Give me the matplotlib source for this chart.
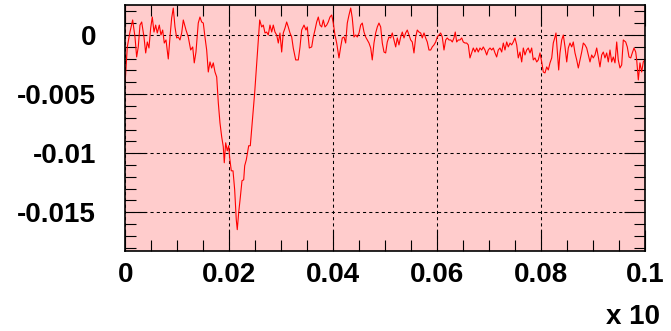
import numpy as np
import matplotlib.pyplot as plt
from matplotlib.ticker import FixedLocator, MultipleLocator, FuncFormatter

# residual trace, both axes in units of 1e-3
x_milli = [
    0.00, 0.39, 0.90, 1.42, 1.87, 2.19, 2.50, 2.83, 3.16, 3.60, 3.93, 4.24, 4.56, 4.89, 5.20,
    5.53, 5.85, 6.16, 6.55, 6.87, 7.20, 7.51, 7.84, 8.28, 8.61, 8.93, 9.24, 9.57, 9.90, 10.20,
    10.53, 10.86, 11.17, 11.69, 12.13, 12.59, 12.98, 13.28, 13.61, 14.05, 14.38, 14.71, 15.02,
    15.34, 15.67, 15.98, 16.31, 16.63, 16.94, 17.27, 17.60, 17.91, 18.23, 18.56, 18.87, 19.06,
    19.33, 19.64, 19.91, 20.10, 20.41, 20.74, 21.06, 21.37, 21.56, 21.83, 22.14, 22.47, 22.80,
    22.99, 23.30, 23.76, 24.07, 24.39, 24.91, 25.36, 25.68, 25.88,
    26.26, 26.57, 26.90, 27.22, 27.53, 27.86, 28.19, 28.49, 28.82, 29.15, 29.46, 29.78, 30.11,
    30.42, 30.75, 31.07, 31.38, 31.71, 32.04, 32.34, 32.81, 33.31, 33.64, 33.96, 34.41, 34.79,
    35.04, 35.43, 35.89, 36.20, 36.52, 36.85, 37.16, 37.49, 37.81, 38.12, 38.45, 38.78, 39.08,
    39.41, 39.74, 40.05, 40.37, 40.70, 41.14, 41.47, 41.78, 42.11, 42.43, 42.74, 43.07, 43.40,
    43.70, 44.03, 44.36, 44.67, 45.00, 45.32, 45.63, 45.96, 46.28, 46.59, 46.92, 47.25, 47.55,
    47.88, 48.21, 48.52, 48.84, 49.17, 49.48, 49.81, 50.13, 50.44, 50.77, 51.10, 51.40, 51.73,
    52.06, 52.37, 52.69, 53.02, 53.33, 53.66, 53.98, 54.29, 54.62, 54.95, 55.25, 55.58, 55.91,
    56.22, 56.54, 56.87, 57.18, 57.51, 57.83, 58.14, 58.47, 58.80, 59.10, 59.43, 59.76, 60.07,
    60.40, 60.72, 61.03, 61.36, 61.69, 61.99, 62.32, 62.65, 62.96, 63.28, 63.53, 63.80, 64.11,
    64.44, 64.77, 65.07, 65.40, 65.73, 66.04, 66.36, 66.69, 67.00, 67.33, 67.65, 67.96, 68.29,
    68.62, 68.92, 69.25, 69.58, 69.89, 70.22, 70.54, 70.85, 71.18, 71.50, 71.81, 72.14, 72.47,
    72.78, 73.10, 73.43, 73.74, 74.07, 74.39, 74.70, 75.03, 75.36, 75.66, 75.99, 76.32, 76.63,
    76.95, 77.28, 77.59, 77.92, 78.24, 78.55, 78.88, 79.21, 79.51, 79.84, 80.17, 80.48, 80.80,
    81.13, 81.44, 81.77, 82.10, 82.40, 82.73, 82.92, 83.25, 83.44, 83.69, 84.02, 84.33, 84.66,
    84.99, 85.29, 85.62, 85.95, 86.25, 86.58, 86.91, 87.22, 87.54, 87.87, 88.18, 88.51, 88.83,
    89.14, 89.47, 89.79, 90.10, 90.43, 90.76, 91.07, 91.39, 91.72, 92.03, 92.35, 92.68, 92.99,
    93.32, 93.64, 93.95, 94.28, 94.61, 94.91, 95.24, 95.57, 95.88, 96.34, 96.65, 96.98, 97.31,
    97.61, 97.94, 98.27, 98.46, 98.77, 99.09, 99.42, 99.73, 100.00,
]
y_milli = [
    -3.80, -1.01, 0.25, 1.27, -0.17, -1.86, -1.01, 0.84, 1.10, -0.17, -1.52, -0.59, -1.10, 0.59, 1.52,
    0.25, 0.84, 0.17, 0.84, 0.00, 0.42, -0.68, -0.42, -2.03, -0.17, 1.44, 2.28, 0.68, -0.25, -0.17,
    -0.42, 0.17, 1.27, 0.42, -0.17, -1.27, -1.01, -2.36, -1.44, 1.01, 1.52, 1.10, 1.01,
    -0.17, -1.27, -3.13, -2.28, -2.79, -2.36, -3.13, -3.55, -5.74, -7.43, -8.61, -9.46, -10.81,
    -9.12, -9.80, -9.37, -10.39, -11.49, -11.49, -13.09, -15.63, -16.47, -15.03, -13.77, -12.33, -12.25,
    -11.06, -10.56, -9.37, -9.37, -7.69, -4.90, -2.11, 0.00, 1.27,
    0.68, 0.84, 0.17, 0.25, 0.00, 0.84, 0.25, 0.84, 0.25, 0.00, -0.68, 0.17, -1.44,
    0.17, 0.59, 1.10, 0.68, 0.17, -0.17, -1.10, -2.11, -2.11, -1.01, 0.42, 0.84, 0.42,
    0.68, -1.10, -1.01, -0.17, 0.42, 1.10, 1.52, 0.84, 0.68, 1.27, 0.68, 0.84, 1.10,
    1.52, 1.69, 1.01, 0.00, -0.68, -1.94, -1.01, -0.25, -0.17, -0.68, 1.01, 1.69, 2.28,
    1.44, -0.17, 0.00, -0.17, 0.17, 0.84, 1.01, 0.25, -0.17, -0.42, -0.68, -1.10, -2.11,
    -0.68, 0.17, 0.68, 1.01, 0.68, -0.68, -1.44, -1.52, -0.59, -0.17, -0.25, 0.17, -0.42,
    -1.01, -0.25, -0.84, -0.17, 0.25, -0.25, 0.17, 0.42, 0.00, -0.42, -0.59, -1.52, -0.17,
    0.42, 0.25, 0.17, -0.25, 0.17, -0.25, -0.59, -1.27, -1.27, -1.01, -0.84, -0.59, -0.17,
    0.00, 0.17, -0.17, -1.27, -0.42, -0.25, -0.42, -0.42, -0.59, -0.25, 0.25, -0.59, -0.42,
    -0.42, -0.25, -0.59, -0.68, -0.68, -0.84, -1.94, -1.52, -1.10, -1.44, -1.10, -1.44, -1.10,
    -1.27, -1.01, -1.27, -1.69, -1.27, -1.10, -1.27, -1.10, -1.52, -1.86, -1.27, -1.10, -1.44,
    -0.68, -1.27, -0.59, -1.01, -0.68, -0.84, -0.59, -0.25, -0.84, -1.94, -1.44, -2.28, -1.10,
    -1.69, -1.27, -1.10, -1.52, -1.10, -2.11, -1.94, -2.28, -2.11, -1.52, -2.28, -3.13, -3.21,
    -2.70, -2.96, -2.36, -1.94, -0.68, -0.17, 0.17, -1.86, -2.96, -1.52, -0.42, 0.00, -1.01,
    -2.28, -1.10, -0.68, -1.01, -0.59, -1.52, -2.11, -2.79, -2.11, -1.44, -0.68, -0.84, -1.10,
    -1.69, -2.28, -1.69, -1.94, -1.69, -1.10, -1.86, -2.70, -1.69, -1.44, -1.94, -1.52, -2.28,
    -1.27, -2.28, -1.86, -2.36, -0.59, -2.11, -2.79, -2.53, -0.42, -0.59, -1.01, -1.86, -1.94,
    -1.52, -1.10, -1.44, -2.11, -3.80, -2.36, -3.13, -2.28, -2.11,
]
x_major = [0, 0.02, 0.04, 0.06, 0.08, 0.1]
y_major = [-0.015, -0.01, -0.005, 0]

x = np.array(x_milli) * 1e-3
y = np.array(y_milli) * 1e-3

plt.rcParams['font.family'] = ['Liberation Sans', 'DejaVu Sans']
plt.rcParams['font.weight'] = 'bold'

fig = plt.figure(figsize=(6.71, 3.31), dpi=100)
ax = fig.add_axes([0.1867, 0.2426, 0.7741, 0.7438])
ax.set_facecolor('#ffcccc')

ax.plot(x, y, color='red', lw=0.8)

ax.set_xlim(0, 0.1)
ax.set_ylim(-0.01825, 0.00258)

ax.xaxis.set_major_locator(FixedLocator(x_major))
ax.yaxis.set_major_locator(FixedLocator(y_major))
ax.xaxis.set_minor_locator(MultipleLocator(0.005))
ax.yaxis.set_minor_locator(MultipleLocator(0.001))
fmt = FuncFormatter(lambda v, p: f"{v:g}")
ax.xaxis.set_major_formatter(fmt)
ax.yaxis.set_major_formatter(fmt)

ax.grid(True, which='major', color='black', linestyle=(0, (3, 3)), lw=0.75)
ax.tick_params(which='both', direction='in', top=True, right=True, labelsize=20, width=0.8)
ax.tick_params(which='major', length=15)
ax.tick_params(which='minor', length=8)
ax.tick_params(axis='y', pad=21)
ax.tick_params(axis='x', pad=8)
for s in ax.spines.values():
    s.set_linewidth(1.2)

# ROOT-style axis multiplier under the right end of the x axis
fig.text(660 / 671, 0.02, 'x 10', ha='right', va='baseline', fontsize=20, fontweight='bold')

fig.savefig('out.png', dpi=100)
